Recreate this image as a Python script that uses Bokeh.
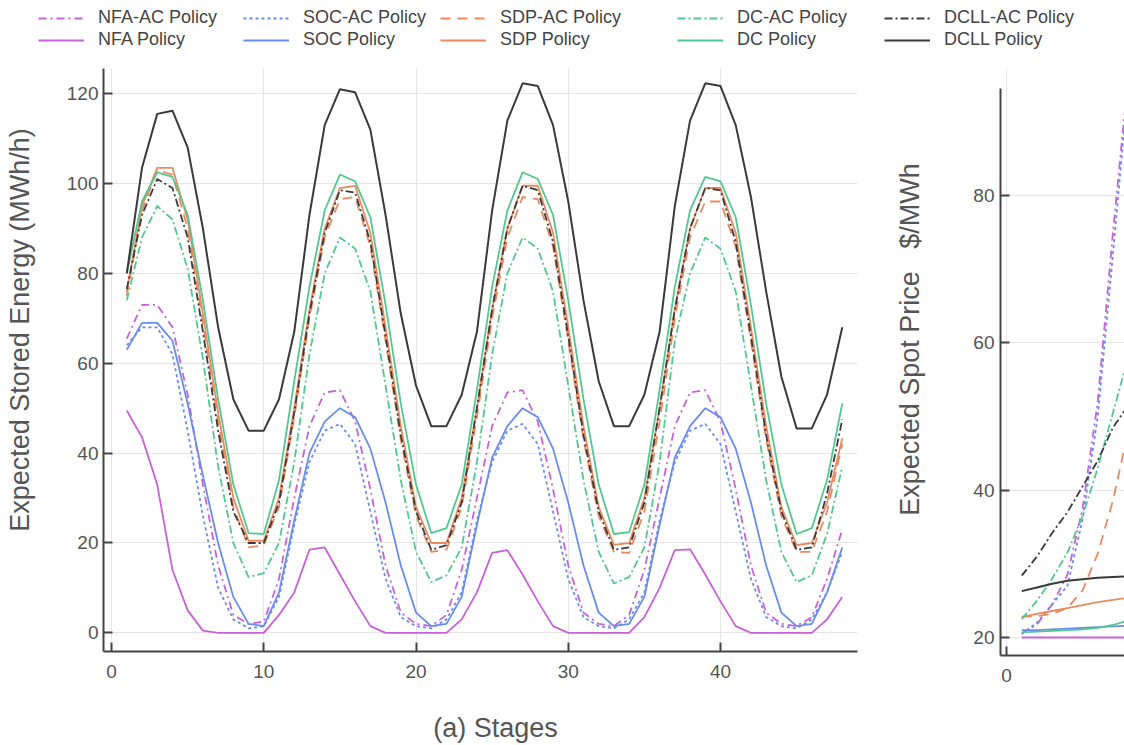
from bokeh.plotting import figure
from bokeh.models import Range1d, FixedTicker, Legend, LegendItem
from bokeh.layouts import column, row
from bokeh.embed import file_html
from bokeh.resources import INLINE

# ---------------- data ----------------
stages = list(range(1, 49))
price_stages = list(range(1, 9))

# Expected stored energy (MWh/h)
nfa_ac = [65.5, 73, 73, 68, 53, 33, 15, 4, 2, 2.5,
          12, 30, 46, 53.5, 54, 47, 32, 15, 4.5, 2, 1.5, 4,
          14, 30, 46, 53.5, 54, 47, 32, 15, 4.5, 2, 1.5, 4,
          14, 30, 46, 53.5, 54, 47, 32, 15, 4.5, 2, 1.5, 3.5,
          12, 23]
nfa = [49.5, 43.5, 33, 14, 5, 0.5, 0, 0, 0, 0,
       4, 9, 18.5, 19, 13, 7, 1.5, 0, 0, 0, 0, 0,
       3, 9, 17.8, 18.4, 13, 7, 1.5, 0, 0, 0, 0, 0,
       3.5, 10, 18.4, 18.6, 13, 7, 1.5, 0, 0, 0, 0, 0,
       3, 8]
soc_ac = [64, 68, 68, 62, 45, 26, 10, 3, 1, 1.5,
          8, 24, 38, 45, 46.5, 42, 27, 12, 3.5, 1.5, 1, 3,
          9, 25, 38, 45, 46.5, 42, 27, 12, 3.5, 1.5, 1, 3,
          9, 25, 38, 45, 46.5, 42, 27, 12, 3.5, 1.5, 1, 3,
          9, 18]
soc = [63, 69, 69, 65, 51, 35, 20, 8, 2, 1.5,
       9, 25, 40, 47, 50, 48, 41, 29, 15, 4.5, 1.5, 2,
       8, 24, 39, 46, 50, 48, 41, 29, 15, 4.5, 1.5, 2,
       8, 24, 39, 46, 50, 48, 41, 29, 15, 4.5, 1.5, 2,
       9, 19]
sdp_ac = [75, 94, 103, 102, 90, 69, 47, 28, 19, 19.5,
          28, 48, 70, 88, 96.5, 97, 86, 65, 43, 26, 18, 18.5,
          28, 48, 70, 88, 97, 96.5, 86, 65, 43, 26, 18, 17.8,
          27, 47, 70, 88, 96, 96, 86, 65, 43, 26, 18, 18,
          27, 42]
sdp = [76, 95, 103.5, 103.5, 92, 71, 49, 30, 20.5, 20.5,
       30, 50, 72, 90, 99, 99.5, 89, 68, 46, 28, 20, 20,
       30, 50, 72, 90, 99.5, 99.5, 89, 68, 46, 28, 19.6, 20,
       30, 50, 72, 90, 99, 99, 89, 68, 46, 28, 19.5, 20,
       29, 43.3]
dc_ac = [74, 88, 95, 92, 81, 61, 37, 20, 12.4, 13.3,
         20, 38, 62, 80, 88, 85.5, 76, 55, 34, 18, 11.3, 12.8,
         19, 38, 62, 80, 88, 85.5, 76, 55, 34, 18, 11, 12.4,
         19, 38, 65, 80, 88, 85.5, 76, 55, 34, 18, 11.3, 12.8,
         22, 37]
dc = [80, 96, 102.5, 101.5, 93, 74, 52, 33, 22.2, 22,
      34, 56, 77, 94, 102, 100.5, 92.5, 73, 51, 33, 22.2, 23.3,
      33, 54, 77, 94, 102.5, 101, 93, 74, 52, 33, 22, 22.4,
      33, 54, 77, 94, 101.5, 100.5, 92.5, 73, 51, 33, 22, 23.3,
      34, 51]
dcll_ac = [76.5, 93, 101, 99, 88, 67, 45, 27, 20, 20,
           29, 49, 71, 89, 98.5, 98, 87, 66, 44, 27, 18.5, 19.5,
           29, 50, 72, 90, 99.5, 98.5, 87, 66, 44, 27, 18.5, 19,
           29, 50, 72, 90, 99, 98.5, 87, 66, 44, 27, 18.5, 19,
           31, 47.5]
dcll = [80, 103.5, 115.5, 116.2, 108, 90, 68, 52, 45, 45,
        52, 67, 93, 113, 121, 120.3, 112, 93, 71, 55, 46, 46,
        53, 67, 94, 114, 122.3, 121.7, 113, 96, 74, 56, 46, 46,
        53, 67, 95, 114, 122.3, 121.7, 113, 97, 76, 57, 45.5, 45.5,
        53, 68]

# Expected spot price ($/MWh), visible stages only
nfa_ac_price = [20.5, 21.8, 24.5, 28.5, 37.5, 52, 75, 96]
nfa_price = [20, 20, 20, 20, 20, 20, 20, 20]
soc_ac_price = [20.5, 22, 24.5, 27, 36, 50, 72, 95]
soc_price = [21, 21, 21.1, 21.2, 21.3, 21.4, 21.5, 21.6]
sdp_ac_price = [22.8, 22.9, 23.2, 24, 26.4, 31.4, 38.6, 48]
sdp_price = [22.8, 23.2, 23.6, 24, 24.4, 24.8, 25.1, 25.4]
dc_ac_price = [22.5, 25, 28, 31.5, 36.5, 43, 50.5, 58]
dc_price = [20.7, 20.8, 20.9, 21, 21.1, 21.3, 21.7, 22.3]
dcll_ac_price = [28.4, 31, 34.2, 37, 40.5, 44, 48.5, 51.5]
dcll_price = [26.3, 26.8, 27.3, 27.7, 27.9, 28.1, 28.2, 28.3]

labels = ["NFA-AC Policy", "NFA Policy", "SOC-AC Policy", "SOC Policy",
          "SDP-AC Policy", "SDP Policy", "DC-AC Policy", "DC Policy",
          "DCLL-AC Policy", "DCLL Policy"]
energy = [nfa_ac, nfa, soc_ac, soc, sdp_ac, sdp, dc_ac, dc, dcll_ac, dcll]
price = [nfa_ac_price, nfa_price, soc_ac_price, soc_price, sdp_ac_price,
         sdp_price, dc_ac_price, dc_price, dcll_ac_price, dcll_price]

x_ticks = [0, 10, 20, 30, 40]
energy_ticks = [0, 20, 40, 60, 80, 100, 120]
price_ticks = [20, 40, 60, 80]

# ---------------- styles ----------------
FONT = "Liberation Sans"
NB = "\u00a0"
C_NFA, C_SOC, C_SDP, C_DC, C_DCLL = "#c862d8", "#6a8cee", "#e98a60", "#52c78f", "#3a3a3a"
colors = [C_NFA, C_NFA, C_SOC, C_SOC, C_SDP, C_SDP, C_DC, C_DC, C_DCLL, C_DCLL]
dashes = ["8 4 2 4", "solid", "3 3", "solid", "10 7", "solid",
          "8 3 2 3", "solid", "8 3 2 3", "solid"]
widths = [1.8, 1.8, 1.8, 1.8, 1.8, 1.8, 1.8, 1.8, 1.8, 2.0]
AXIS_C = "#444444"
TICK_C = "#555555"
LABEL_C = "#555555"
GRID_C = "#e6e6e6"


def style_axes(p, xt, yt, ystand, xstand):
    p.xaxis.ticker = FixedTicker(ticks=xt)
    p.yaxis.ticker = FixedTicker(ticks=yt)
    for ax in (p.xaxis, p.yaxis):
        ax.axis_line_color = AXIS_C
        ax.axis_line_width = 2
        ax.major_tick_line_color = AXIS_C
        ax.major_tick_line_width = 2
        ax.major_tick_in = 9
        ax.major_tick_out = 0
        ax.minor_tick_line_color = None
        ax.major_label_text_font = FONT
        ax.major_label_text_font_size = "19px"
        ax.major_label_text_color = TICK_C
        ax.axis_label_text_font = FONT
        ax.axis_label_text_font_size = "27px"
        ax.axis_label_text_font_style = "normal"
        ax.axis_label_text_color = LABEL_C
    p.yaxis.major_label_standoff = ystand
    p.xaxis.major_label_standoff = xstand
    p.grid.grid_line_color = GRID_C
    p.grid.grid_line_width = 1
    p.outline_line_color = None


# ---------------- legend strip ----------------
leg = figure(width=1124, height=60, x_range=Range1d(0, 1), y_range=Range1d(0, 1),
             output_backend="svg", toolbar_location=None,
             x_axis_location=None, y_axis_location=None, min_border=0)
leg.outline_line_color = None
leg.grid.visible = False
proxies = []
for col, dash in zip(colors, dashes):
    # legend proxies: a single undefined point, so nothing is drawn in the strip itself
    proxies.append(leg.line(x=[float("nan")], y=[float("nan")], line_color=col,
                            line_width=2, line_dash=dash))
col_x = [38, 243, 440, 677, 884]
for i, cx in enumerate(col_x):
    lg = Legend(items=[LegendItem(label=labels[2 * i], renderers=[proxies[2 * i]]),
                       LegendItem(label=labels[2 * i + 1], renderers=[proxies[2 * i + 1]])],
                location=(cx, 10), orientation="vertical",
                glyph_width=46, glyph_height=20, label_height=20, label_standoff=14,
                spacing=1, padding=0, margin=0, border_line_color=None,
                background_fill_alpha=0, label_text_font=FONT,
                label_text_font_size="18px", label_text_color="#444444")
    leg.add_layout(lg)

# ---------------- left panel: stored energy ----------------
p1 = figure(frame_width=754, frame_height=583,
            x_range=Range1d(-0.53, 49.0), y_range=Range1d(-4.15, 125.6),
            output_backend="svg", toolbar_location=None,
            min_border_left=103, min_border_right=13, min_border_top=8, min_border_bottom=90)
style_axes(p1, x_ticks, energy_ticks, 5, 13)
for ys, col, dash, w in zip(energy, colors, dashes, widths):
    p1.line(stages, ys, line_color=col, line_width=w, line_dash=dash)
p1.yaxis.axis_label = NB * 8 + "Expected Stored Energy (MWh/h)"
p1.yaxis.axis_label_standoff = 29
p1.xaxis.axis_label = NB * 4 + "(a) Stages"
p1.xaxis.axis_label_standoff = 32

# ---------------- right panel: spot price (cropped at the window edge) ----------------
p2 = figure(frame_width=124, frame_height=587,
            x_range=Range1d(-0.4, 7.76), y_range=Range1d(17.56, 97.24),
            output_backend="svg", toolbar_location=None,
            min_border_left=130, min_border_right=0, min_border_top=8, min_border_bottom=90)
style_axes(p2, x_ticks, price_ticks, 6, 13)
p2.yaxis.bounds = (17.56, 94.5)
for ys, col, dash, w in zip(price, colors, dashes, widths):
    p2.line(price_stages, ys, line_color=col, line_width=w, line_dash=dash)
p2.yaxis.axis_label = NB * 6 + "Expected Spot Price" + NB * 3 + "$/MWh"
p2.yaxis.axis_label_standoff = 45

layout = column(leg, row(p1, p2))
open("out.html", "w").write(file_html(layout, INLINE))
